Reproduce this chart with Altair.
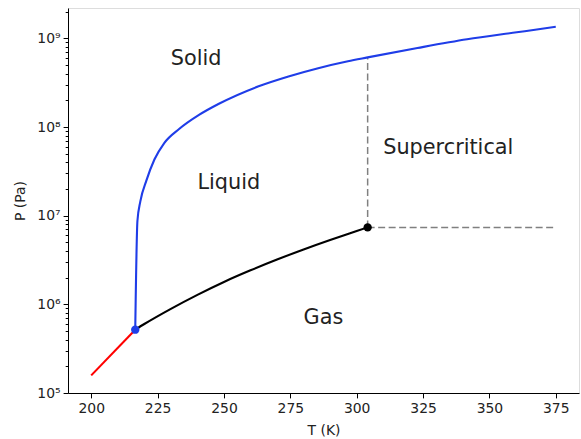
import altair as alt
import pandas as pd

# Sublimation curve (red)
red_T = [200.0, 216.58]
red_P = [1.58e5, 5.18e5]

# Vaporization curve (black)
black_T = [216.58, 220, 230, 240, 250, 260, 270, 280, 290, 300, 304.13]
black_P = [5.18e5, 6.0e5, 8.9e5, 1.28e6, 1.79e6, 2.42e6, 3.2e6, 4.16e6, 5.32e6, 6.71e6, 7.38e6]

# Melting curve (blue)
blue_T = [216.58, 217.4, 218.5, 220.8, 223.8, 227.5, 233.1, 240.6, 248.1,
          263.05, 274.3, 285.5, 296.7, 304.13, 322.9, 341.6, 360.3, 375.0]
blue_P = [5.18e5, 8.7e6, 1.45e7, 2.5e7, 4.3e7, 6.6e7, 9.5e7, 1.37e8, 1.83e8,
          2.88e8, 3.72e8, 4.61e8, 5.52e8, 6.1e8, 7.78e8, 9.75e8, 1.17e9, 1.35e9]

# Triple and critical points
triple_T, triple_P = 216.58, 5.18e5
crit_T, crit_P = 304.13, 7.38e6
melt_at_crit = 6.1e8

# Dashed boundaries of the supercritical region
vert_T = [crit_T, crit_T]
vert_P = [crit_P, melt_at_crit]
horiz_T = [crit_T, 375.0]
horiz_P = [crit_P, crit_P]

# Region labels
label_text = ["Solid", "Liquid", "Supercritical", "Gas"]
label_T = [230, 240, 310, 280]
label_P = [5e8, 2e7, 5e7, 6e5]

x_ticks = [200, 225, 250, 275, 300, 325, 350, 375]
y_major = [1e5, 1e6, 1e7, 1e8, 1e9]
y_minor = [m * 10 ** e for e in range(5, 10) for m in range(2, 10)]
y_minor = [v for v in y_minor if v < 2.2e9]

FONT = "DejaVu Sans"
IS_MAJOR = "abs(log(datum.value)/LN10 - round(log(datum.value)/LN10)) < 0.001"

xs = alt.Scale(domain=[191.25, 383.75], nice=False, zero=False)
ys = alt.Scale(type="log", domain=[1e5, 2.2e9], nice=False)

x_axis = alt.Axis(values=x_ticks, title="T (K)", grid=False, tickSize=4.9,
                  labelPadding=4, titlePadding=8, labelFontSize=13.9,
                  titleFontSize=13.9, labelFont=FONT, titleFont=FONT,
                  titleFontWeight="normal", labelColor="#222222",
                  titleColor="#222222", tickColor="black", domainColor="black",
                  labelFlush=False)

y_axis = alt.Axis(values=y_major + y_minor, title="P (Pa)", grid=False,
                  tickSize={"condition": {"test": IS_MAJOR, "value": 4.9}, "value": 2.8},
                  labelExpr="(" + IS_MAJOR + ") ? '10' + ['⁰','¹','²','³','⁴','⁵','⁶','⁷','⁸','⁹'][round(log(datum.value)/LN10)] : ''",
                  labelPadding=3, titlePadding=9, labelFontSize=13.9,
                  titleFontSize=13.9, labelFont=FONT, titleFont=FONT,
                  titleFontWeight="normal", labelColor="#222222",
                  titleColor="#222222", tickColor="black", domainColor="black",
                  labelFlush=False, labelOverlap=False, labelBaseline="middle")

def line_df(T, P):
    return pd.DataFrame({"T": T, "P": P, "i": list(range(len(T)))})

def line(T, P, color, width=2.1, dash=None, interp="linear"):
    kw = dict(color=color, strokeWidth=width, clip=True, interpolate=interp)
    if dash is not None:
        kw["strokeDash"] = dash
    return alt.Chart(line_df(T, P)).mark_line(**kw).encode(
        x=alt.X("T:Q", scale=xs, axis=x_axis),
        y=alt.Y("P:Q", scale=ys, axis=y_axis),
        order="i:Q",
    )

vert = line(vert_T, vert_P, "#808080", width=1.5, dash=[7, 3.5])
horiz = line(horiz_T, horiz_P, "#808080", width=1.5, dash=[7, 3.5])
red = line(red_T, red_P, "#ff0000")
black = line(black_T, black_P, "black", interp="monotone")
blue = line(blue_T, blue_P, "#1f3de8", interp="monotone")

pts_df = pd.DataFrame({"T": [crit_T, triple_T], "P": [crit_P, triple_P],
                       "c": ["black", "#1f3de8"]})
pts = alt.Chart(pts_df).mark_circle(size=70, opacity=1).encode(
    x=alt.X("T:Q", scale=xs), y=alt.Y("P:Q", scale=ys),
    color=alt.Color("c:N", scale=None),
)

lab_df = pd.DataFrame({"t": label_text, "T": label_T, "P": label_P})
labels = alt.Chart(lab_df).mark_text(
    align="left", baseline="alphabetic", fontSize=20.8, font=FONT, color="#222222"
).encode(x=alt.X("T:Q", scale=xs), y=alt.Y("P:Q", scale=ys), text="t:N")

chart = alt.layer(vert, horiz, red, black, blue, pts, labels).properties(
    width=511, height=385,
    autosize=alt.AutoSizeParams(type="none"),
    padding={"left": 68, "top": 8, "right": 2, "bottom": 46},
).configure_view(stroke="black", strokeWidth=1.1).configure(background="white")

chart.save("out.html", embed_options={"renderer": "svg", "actions": False})
